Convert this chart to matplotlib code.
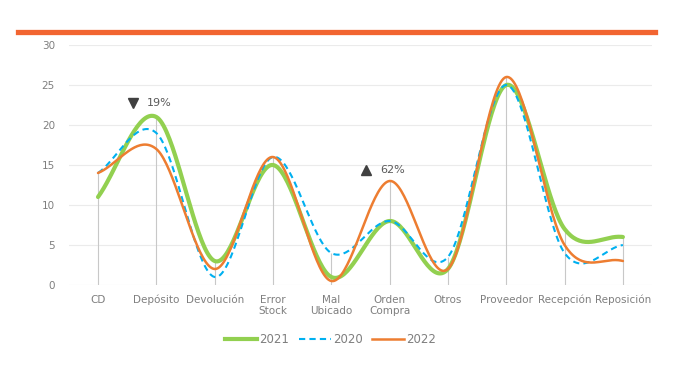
import numpy as np
import matplotlib
matplotlib.use("Agg")
import matplotlib.pyplot as plt
from matplotlib.lines import Line2D

categories = ["CD", "Depósito", "Devolución", "Error\nStock", "Mal\nUbicado",
              "Orden\nCompra", "Otros", "Proveedor", "Recepción", "Reposición"]
v2021 = [11, 21, 3, 15, 1, 8, 2, 25, 7, 6]
v2020 = [14, 19, 1, 16, 4, 8, 3.5, 25, 4, 5]
v2022 = [14, 17, 2, 16, 0.5, 13, 2, 26, 5, 3]

GREEN = "#92D050"
BLUE = "#00B0F0"
ORANGE = "#ED7D31"
GRAY_TXT = "#7F7F7F"


def smooth(y, n=40):
    """Catmull-Rom spline through the points."""
    y = np.asarray(y, dtype=float)
    x = np.arange(len(y))
    p = np.concatenate([[2 * y[0] - y[1]], y, [2 * y[-1] - y[-2]]])
    xs, ys = [], []
    for i in range(len(y) - 1):
        p0, p1, p2, p3 = p[i], p[i + 1], p[i + 2], p[i + 3]
        t = np.linspace(0, 1, n, endpoint=(i == len(y) - 2))
        yy = 0.5 * ((2 * p1) + (-p0 + p2) * t + (2 * p0 - 5 * p1 + 4 * p2 - p3) * t ** 2
                    + (-p0 + 3 * p1 - 3 * p2 + p3) * t ** 3)
        xs.append(x[i] + t)
        ys.append(yy)
    return np.concatenate(xs), np.concatenate(ys)


fig = plt.figure(figsize=(6.75, 3.75), dpi=100)
ax = fig.add_axes([0.102, 0.24, 0.864, 0.64])

# top accent bar
fig.add_artist(Line2D([0.027, 0.970], [0.915, 0.915], color="#F26531", lw=3.8,
                      transform=fig.transFigure))

x = np.arange(len(categories))
tops = np.max([v2021, v2020, v2022], axis=0)
ax.vlines(x, 0, tops, color="#C8C8C8", lw=0.8, zorder=1)

for vals, col, lw, ls, z in [(v2021, GREEN, 3.0, "-", 3),
                             (v2020, BLUE, 1.5, (0, (3, 2)), 4),
                             (v2022, ORANGE, 1.8, "-", 5)]:
    sx, sy = smooth(vals)
    ax.plot(sx, sy, color=col, lw=lw, ls=ls, zorder=z, solid_capstyle="round")

# annotations
ax.plot(0.6, 22.7, marker="v", color="#404040", ms=7, ls="none", zorder=6)
ax.text(0.84, 22.7, "19%", color="#595959", fontsize=8, va="center")
ax.plot(4.6, 14.4, marker="^", color="#404040", ms=7, ls="none", zorder=6)
ax.text(4.84, 14.4, "62%", color="#595959", fontsize=8, va="center")

ax.set_xlim(-0.5, len(categories) - 0.5)
ax.set_ylim(0, 30)
ax.set_yticks(range(0, 31, 5))
ax.set_xticks(x)
ax.set_xticklabels(categories)
ax.grid(axis="y", color="#EBEBEB", lw=0.8, zorder=0)
ax.set_axisbelow(True)
for s in ax.spines.values():
    s.set_visible(False)
ax.tick_params(axis="both", length=0, labelsize=7.5, colors=GRAY_TXT)
ax.tick_params(axis="y", pad=10)
ax.tick_params(axis="x", pad=7)
for lab in ax.get_xticklabels():
    lab.set_linespacing(1.1)

handles = [Line2D([], [], color=GREEN, lw=3.0),
           Line2D([], [], color=BLUE, lw=1.5, ls=(0, (3, 2))),
           Line2D([], [], color=ORANGE, lw=1.8)]
leg = fig.legend(handles, ["2021", "2020", "2022"], loc="center",
                 bbox_to_anchor=(0.49, 0.095), ncol=3, frameon=False,
                 fontsize=8.5, handlelength=2.7, handletextpad=0.2, columnspacing=0.8)
for t in leg.get_texts():
    t.set_color(GRAY_TXT)

fig.savefig("out.png", dpi=100)
